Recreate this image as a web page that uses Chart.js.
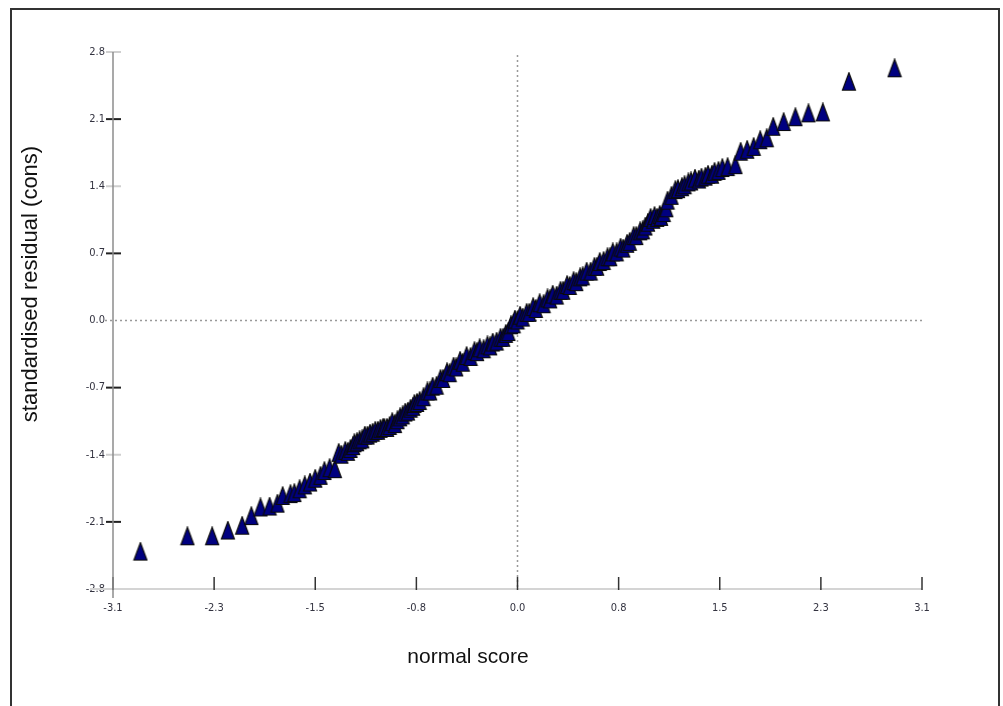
<!DOCTYPE html>
<html>
<head>
<meta charset="utf-8">
<script src="https://cdn.jsdelivr.net/npm/chart.js@4/dist/chart.umd.min.js"></script>
<style>
  body { margin: 0; background: #fff; }
  canvas { display: block; }
</style>
</head>
<body>
<canvas id="qqChart" width="1003" height="706"></canvas>
<script>
// normal score (x) vs standardised residual (y)
const xScores = [
  -2.89, -2.53, -2.34, -2.22, -2.11, -2.04, -1.97, -1.90, -1.84, -1.80,
  -1.74, -1.71, -1.67, -1.63, -1.59, -1.55, -1.51, -1.48, -1.44, -1.40,
  -1.37, -1.32, -1.28, -1.25, -1.21, -1.17, -1.13, -1.09, -1.05, -1.02,
  -0.98, -0.94, -0.90, -0.86, -0.82, -0.79, -0.75, -0.69, -0.65, -0.59,
  -0.54, -0.49, -0.44, -0.39, -0.33, -0.29, -0.23, -0.19, -0.13, -0.09,
  -0.05, -0.02, 0.02, 0.07, 0.12, 0.17, 0.23, 0.27, 0.33, 0.38,
  0.43, 0.48, 0.53, 0.59, 0.63, 0.69, 0.73, 0.79, 0.84, 0.89,
  0.94, 0.98, 1.02, 1.05, 1.09, 1.12, 1.15, 1.21, 1.26, 1.31,
  1.36, 1.41, 1.46, 1.51, 1.57, 1.61, 1.67, 1.71, 1.76, 1.81,
  1.86, 1.91, 1.96, 2.04, 2.13, 2.23, 2.34, 2.54, 2.89
];
const yResiduals = [
  -2.41, -2.25, -2.25, -2.19, -2.14, -2.04, -1.95, -1.94, -1.91, -1.83,
  -1.81, -1.80, -1.76, -1.72, -1.69, -1.65, -1.62, -1.57, -1.54, -1.55,
  -1.38, -1.36, -1.34, -1.28, -1.25, -1.20, -1.18, -1.15, -1.13, -1.12,
  -1.10, -1.08, -1.01, -0.96, -0.92, -0.87, -0.84, -0.74, -0.69, -0.61,
  -0.54, -0.48, -0.42, -0.37, -0.32, -0.29, -0.26, -0.23, -0.18, -0.14,
  -0.05, 0.01, 0.05, 0.08, 0.14, 0.18, 0.23, 0.27, 0.31, 0.37,
  0.41, 0.45, 0.51, 0.56, 0.61, 0.66, 0.71, 0.76, 0.80, 0.88,
  0.93, 0.98, 1.07, 1.09, 1.10, 1.12, 1.25, 1.36, 1.39, 1.44,
  1.48, 1.49, 1.52, 1.55, 1.59, 1.60, 1.62, 1.76, 1.78, 1.81,
  1.88, 1.90, 2.02, 2.07, 2.12, 2.16, 2.17, 2.49, 2.63
];
// extra points inside the crowded middle band
const xScoresMid = [
  -1.35, -1.30, -1.26, -1.23, -1.19, -1.15, -1.11, -1.07, -1.03, -1.00,
  -0.96, -0.92, -0.88, -0.84, -0.80, -0.77, -0.72, -0.67, -0.62, -0.57,
  -0.52, -0.47, -0.42, -0.36, -0.31, -0.26, -0.21, -0.16, -0.11, -0.07,
  -0.03, 0.00, 0.04, 0.09, 0.14, 0.20, 0.25, 0.30, 0.35, 0.40,
  0.45, 0.50, 0.56, 0.61, 0.66, 0.71, 0.76, 0.81, 0.86, 0.91,
  0.96, 1.00, 1.04, 1.07, 1.10, 1.14, 1.18, 1.23, 1.28, 1.33,
  1.39, 1.44, 1.49, 1.54
];
const yResidualsMid = [
  -1.40, -1.37, -1.31, -1.27, -1.24, -1.20, -1.17, -1.15, -1.12, -1.12,
  -1.06, -1.04, -0.99, -0.95, -0.90, -0.86, -0.80, -0.74, -0.68, -0.61,
  -0.55, -0.49, -0.44, -0.38, -0.33, -0.30, -0.27, -0.22, -0.18, -0.12,
  -0.04, 0.00, 0.03, 0.08, 0.12, 0.17, 0.22, 0.26, 0.31, 0.36,
  0.40, 0.46, 0.51, 0.56, 0.62, 0.66, 0.71, 0.75, 0.82, 0.88,
  0.94, 1.02, 1.05, 1.07, 1.08, 1.17, 1.30, 1.37, 1.41, 1.45,
  1.47, 1.50, 1.52, 1.56
];

const xTickValues = [-3.1, -2.325, -1.55, -0.775, 0, 0.775, 1.55, 2.325, 3.1];
const xTickLabels = ['-3.1', '-2.3', '-1.5', '-0.8', '0.0', '0.8', '1.5', '2.3', '3.1'];
const yTickValues = [-2.8, -2.1, -1.4, -0.7, 0, 0.7, 1.4, 2.1, 2.8];
const yTickLabels = ['-2.8', '-2.1', '-1.4', '-0.7', '0.0', '0.7', '1.4', '2.1', '2.8'];

const xTitle = 'normal score';
const yTitle = 'standardised residual (cons)';

// tall navy triangle marker
const marker = document.createElement('canvas');
marker.width = 16;
marker.height = 20;
const mctx = marker.getContext('2d');
mctx.beginPath();
mctx.moveTo(8, 1);
mctx.lineTo(14.5, 18.5);
mctx.lineTo(1.5, 18.5);
mctx.closePath();
mctx.fillStyle = '#000080';
mctx.fill();
mctx.strokeStyle = '#0a0a0a';
mctx.lineWidth = 1.2;
mctx.stroke();

const tickFont = { family: "'Liberation Sans Narrow', 'Arial Narrow', 'DejaVu Sans Condensed', sans-serif", size: 11 };

function line(ctx, x1, y1, x2, y2) {
  ctx.beginPath();
  ctx.moveTo(x1, y1);
  ctx.lineTo(x2, y2);
  ctx.stroke();
}

const axisDecor = {
  id: 'axisDecor',
  beforeDatasetsDraw(chart) {
    const { ctx, chartArea: a, scales: { x, y } } = chart;
    const yb = y.getPixelForValue(-2.8);
    const y0 = y.getPixelForValue(0);
    const x0 = x.getPixelForValue(0);
    ctx.save();

    // outer frame
    ctx.strokeStyle = '#333';
    ctx.lineWidth = 2;
    ctx.strokeRect(11, 9, 988, 720);

    // x baseline
    ctx.strokeStyle = '#d4d4d4';
    ctx.lineWidth = 2;
    line(ctx, a.left - 23, yb, a.right, yb);

    // dotted zero lines
    ctx.save();
    ctx.setLineDash([2, 3]);
    ctx.strokeStyle = '#999';
    ctx.lineWidth = 1.5;
    line(ctx, x0, a.top + 3, x0, yb);
    line(ctx, a.left - 8, y0, a.right, y0);
    ctx.restore();

    // y ticks: dark on odd steps, light on even steps
    yTickValues.forEach((v, i) => {
      if (v === 0 || v === -2.8) return;
      const py = y.getPixelForValue(v);
      ctx.strokeStyle = (i % 2 === 1) ? '#222' : '#cfcfcf';
      ctx.lineWidth = 2;
      line(ctx, a.left - 7, py, a.left + 8, py);
    });

    // x ticks
    ctx.strokeStyle = '#333';
    ctx.lineWidth = 1.5;
    xTickValues.forEach(v => {
      const px = x.getPixelForValue(v);
      line(ctx, px, yb - 12, px, yb + 1);
    });

    // y axis line
    ctx.strokeStyle = '#8c8c8c';
    ctx.lineWidth = 1.5;
    line(ctx, a.left, y.getPixelForValue(2.8), a.left, yb + 9);

    // axis titles
    ctx.fillStyle = '#111';
    ctx.textAlign = 'center';
    ctx.textBaseline = 'middle';
    ctx.font = "21px 'Liberation Sans', Arial, sans-serif";
    ctx.fillText(xTitle, 468, 657);
    ctx.font = "22px 'Liberation Sans', Arial, sans-serif";
    ctx.translate(31, 284);
    ctx.rotate(-Math.PI / 2);
    ctx.fillText(yTitle, 0, 0);
    ctx.restore();
  }
};

const points = xScores.map((v, i) => ({ x: v, y: yResiduals[i] }))
  .concat(xScoresMid.map((v, i) => ({ x: v, y: yResidualsMid[i] })))
  .sort((p, q) => p.x - q.x);

const ctx = document.getElementById('qqChart').getContext('2d');
const qqChart = new Chart(ctx, {
  type: 'scatter',
  data: {
    datasets: [{
      label: 'residuals',
      data: points,
      pointStyle: marker,
      pointRadius: 8
    }]
  },
  options: {
    responsive: false,
    animation: false,
    devicePixelRatio: 1,
    layout: { padding: { top: 52, right: 81, left: 0, bottom: 0 } },
    plugins: { legend: { display: false }, tooltip: { enabled: false } },
    scales: {
      x: {
        type: 'linear',
        min: -3.1,
        max: 3.1,
        afterBuildTicks: s => { s.ticks = xTickValues.map(v => ({ value: v })); },
        afterFit: s => { s.height = 117; },
        grid: { display: false, drawTicks: false },
        border: { display: false },
        ticks: {
          padding: 13,
          color: '#333340',
          font: tickFont,
          maxRotation: 0,
          autoSkip: false,
          callback: v => xTickLabels[xTickValues.indexOf(v)]
        }
      },
      y: {
        type: 'linear',
        min: -2.8,
        max: 2.8,
        afterBuildTicks: s => { s.ticks = yTickValues.map(v => ({ value: v })); },
        afterFit: s => { s.width = 113; },
        grid: { display: false, drawTicks: false },
        border: { display: false },
        ticks: {
          padding: 8,
          color: '#333340',
          font: tickFont,
          autoSkip: false,
          callback: v => yTickLabels[yTickValues.indexOf(v)]
        }
      }
    }
  },
  plugins: [axisDecor]
});
</script>
</body>
</html>
